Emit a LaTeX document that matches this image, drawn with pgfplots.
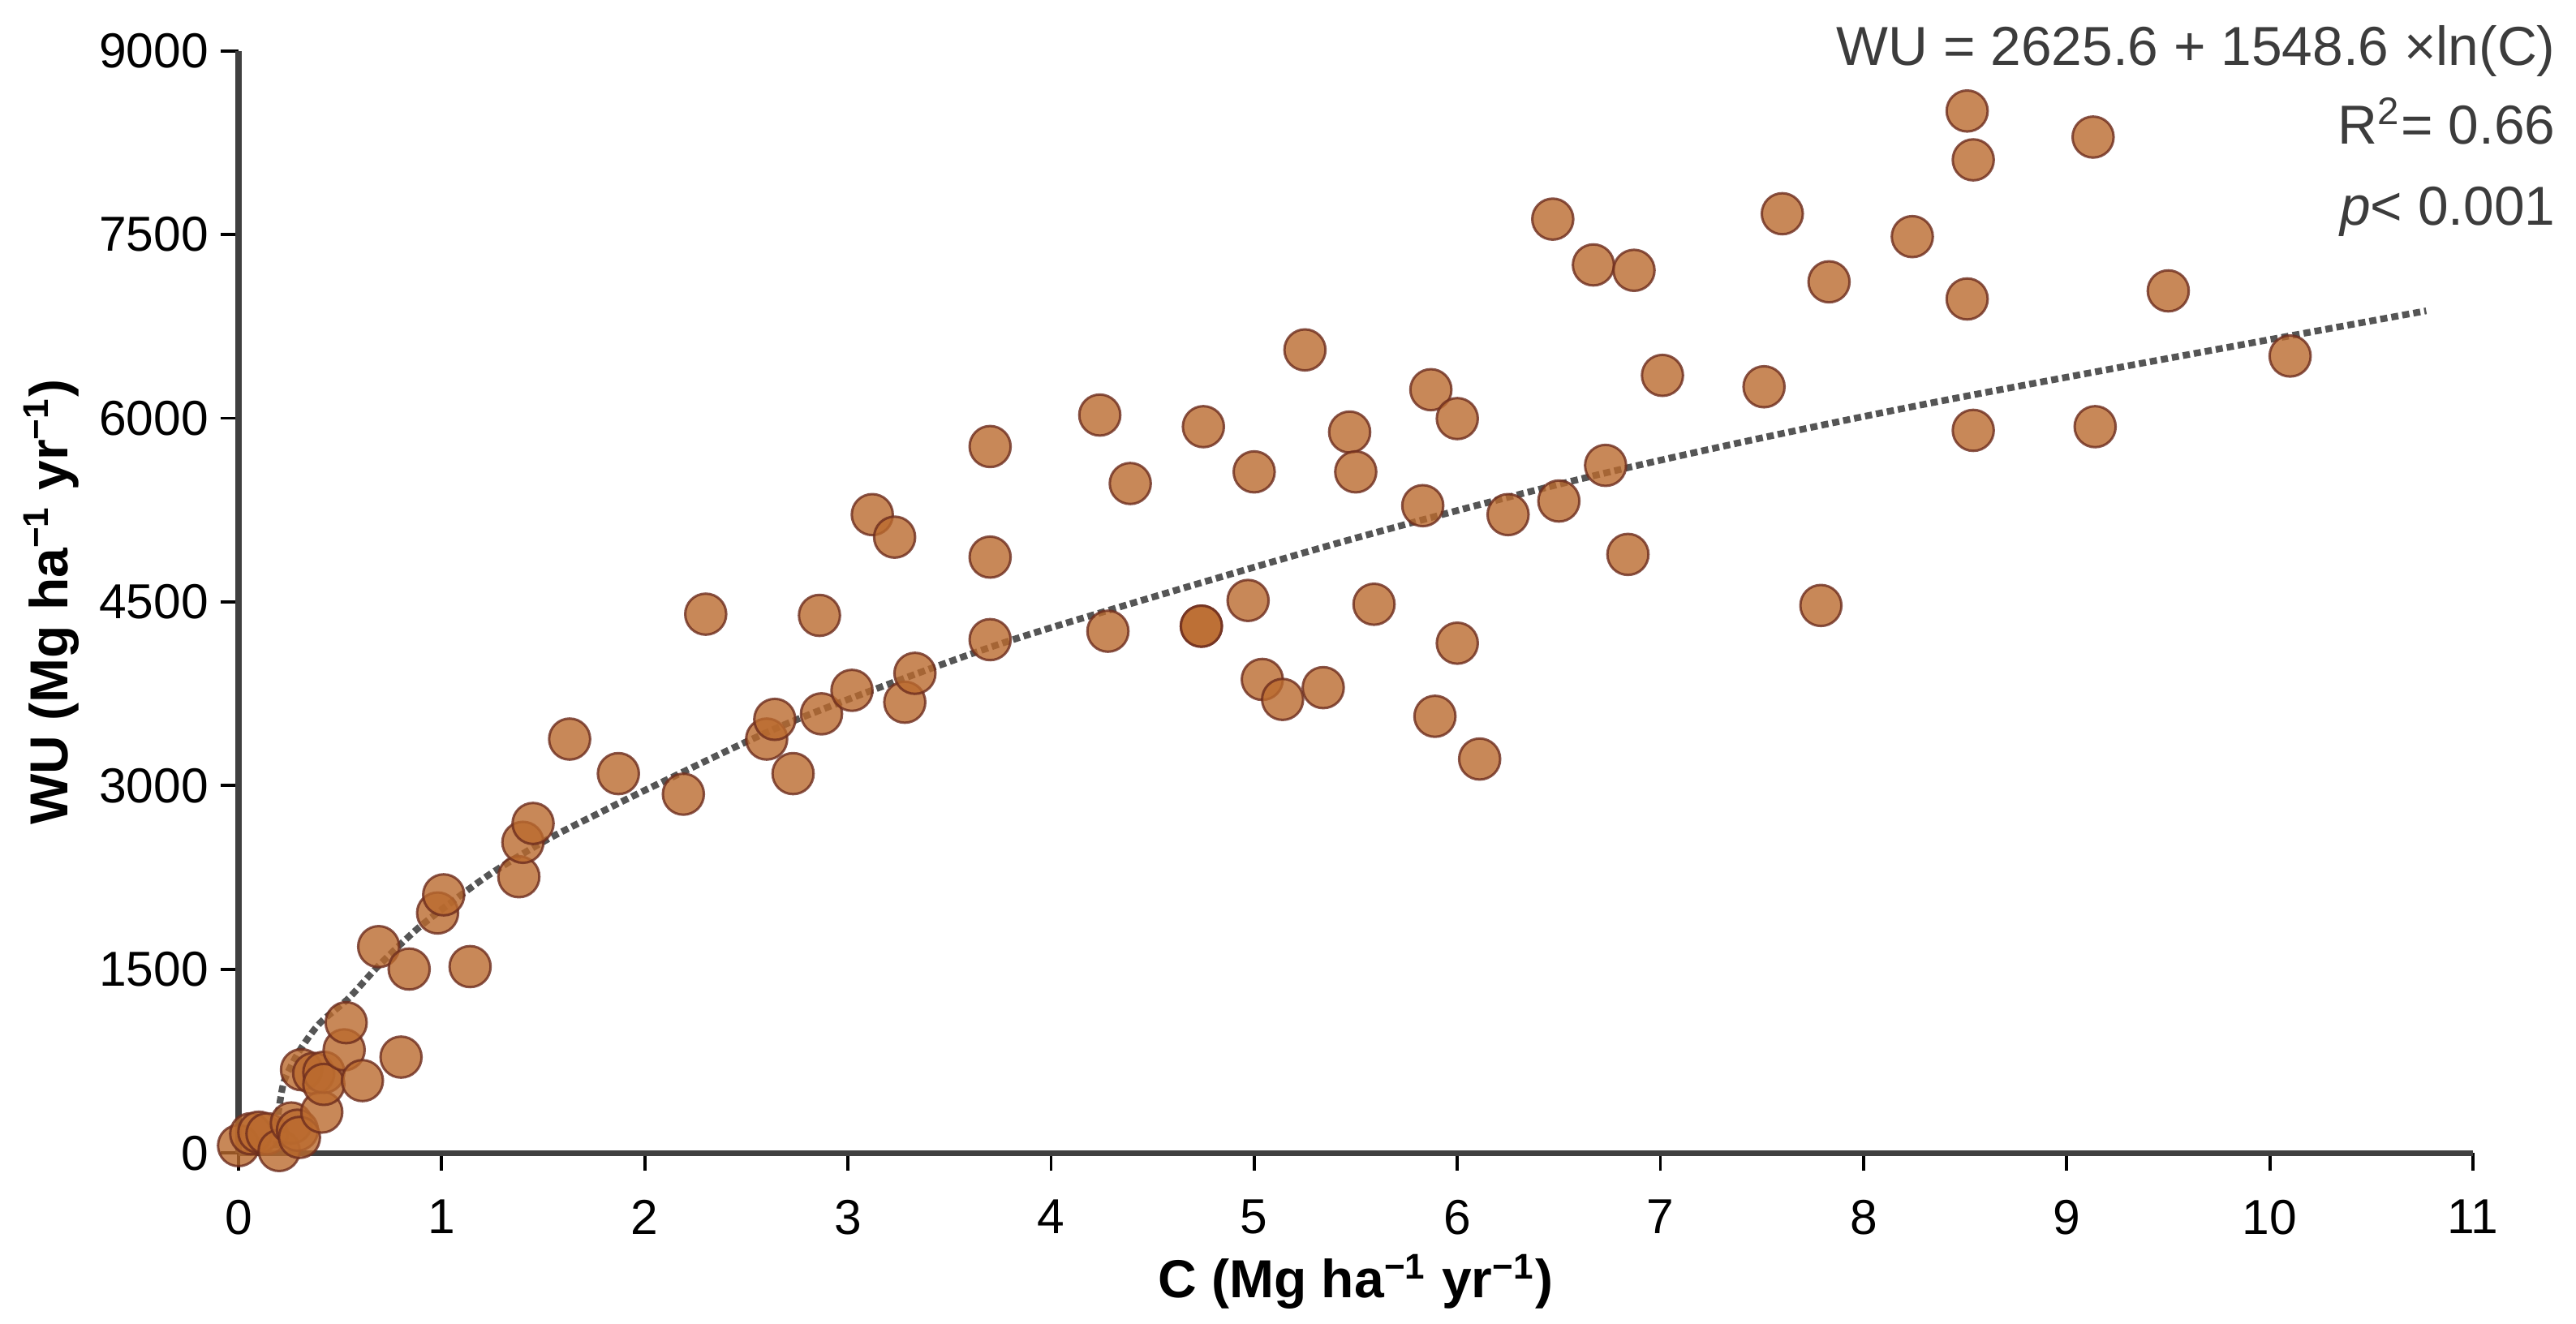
\documentclass[border=0pt]{standalone}
\usepackage{fontspec}
\setmainfont{Liberation Sans}
\usepackage{pgfplots}
\pgfplotsset{compat=1.18}
\definecolor{ptfill}{RGB}{186,106,46}
\definecolor{ptedge}{RGB}{110,45,30}
\definecolor{trend}{RGB}{85,85,85}
\definecolor{eqtext}{RGB}{60,60,60}
\pgfplotstableread{
x y
0.00 60
0.06 157
0.10 170
0.14 157
0.20 20
0.26 245
0.29 186
0.30 127
0.31 680
0.37 650
0.41 334
0.42 659
0.42 560
0.52 842
0.53 1064
0.61 591
0.69 1685
0.80 783
0.84 1502
0.98 1960
1.01 2108
1.14 1522
1.38 2256
1.40 2537
1.45 2691
1.63 3380
1.87 3098
2.19 2930
2.30 4400
2.60 3380
2.64 3541
2.73 3098
2.86 4390
2.87 3586
3.02 3778
3.12 5213
3.23 5029
3.28 3681
3.33 3917
3.70 5769
3.70 4866
3.70 4192
4.24 6026
4.28 4261
4.39 5467
4.74 4302
4.74 4302
4.75 5931
4.97 4512
5.00 5562
5.04 3867
5.14 3704
5.25 6558
5.34 3800
5.47 5887
5.50 5562
5.59 4481
5.83 5286
5.87 6233
5.89 3566
6.00 5997
6.00 4163
6.11 3217
6.25 5213
6.47 7626
6.50 5324
6.67 7252
6.73 5615
6.84 4888
6.87 7208
7.01 6350
7.51 6257
7.60 7670
7.79 4471
7.83 7114
8.24 7483
8.51 8509
8.51 6974
8.54 8110
8.54 5901
9.13 8296
9.14 5931
9.50 7040
10.10 6508
}\pts
\pgfplotstableread{
x y
0.187 40
0.19 250
0.22 560
0.26 715
0.31 860
0.40 1060
0.54 1260
0.69 1530
0.88 1830
1.05 2050
1.25 2290
1.52 2560
1.78 2780
2.08 3025
2.73 3527
3.63 4089
4.26 4420
5.54 5040
6.79 5577
8.33 6124
10.77 6877
}\fit
\begin{document}
\begin{tikzpicture}
\begin{axis}[
 scale only axis, width=500.7pt, height=247pt,
 xmin=0, xmax=11, ymin=0, ymax=9000,
 clip=false,
 axis x line*=bottom, axis y line*=left,
 axis line style={-, line width=1.3pt, black!75},
 xtick={0,...,11}, ytick={0,1500,...,9000},
 tick align=outside, major tick length=4pt,
 tick style={line width=0.7pt, black},
 /pgf/number format/assume math mode=true,
 /pgf/number format/1000 sep={},
 tick label style={font=\fontsize{11}{13}\selectfont},
 xticklabel style={yshift=-3pt},
 yticklabel style={xshift=0.8pt},
 xlabel={C (Mg ha\textsuperscript{−1} yr\textsuperscript{−1})},
 ylabel={WU (Mg ha\textsuperscript{−1} yr\textsuperscript{−1})},
 label style={font=\bfseries\fontsize{12}{14}\selectfont},
 xlabel style={at={(axis description cs:0.5,-0.1316)}, anchor=base},
 ylabel style={at={(axis description cs:-0.0839,0.5)}, anchor=center},
]
\addplot[only marks, mark=*, mark size=4.6pt,
  mark options={fill=ptfill, draw=ptedge, line width=0.55pt, fill opacity=0.8, draw opacity=0.8}]
  table {\pts};
\addplot[trend, line width=1.5pt, dash pattern=on 1.6pt off 0.9pt, smooth, tension=0.5] table {\fit};
\node[anchor=base east, inner sep=0pt, font=\fontsize{12.3}{14}\selectfont, text=eqtext] at (axis cs:11.41,8881) {WU = 2625.6 + 1548.6 ×ln(C)};
\node[anchor=base east, inner sep=0pt, font=\fontsize{12.3}{14}\selectfont, text=eqtext] at (axis cs:11.41,8239) {R\textsuperscript{2}= 0.66};
\node[anchor=base east, inner sep=0pt, font=\fontsize{12.3}{14}\selectfont, text=eqtext] at (axis cs:11.41,7577) {\textit{p}< 0.001};
\end{axis}
\pgfresetboundingbox
\path[use as bounding box] ([xshift=-53.45pt,yshift=-38.2pt]current axis.south west) rectangle ([xshift=23.1pt,yshift=11.4pt]current axis.north east);
\end{tikzpicture}
\end{document}
